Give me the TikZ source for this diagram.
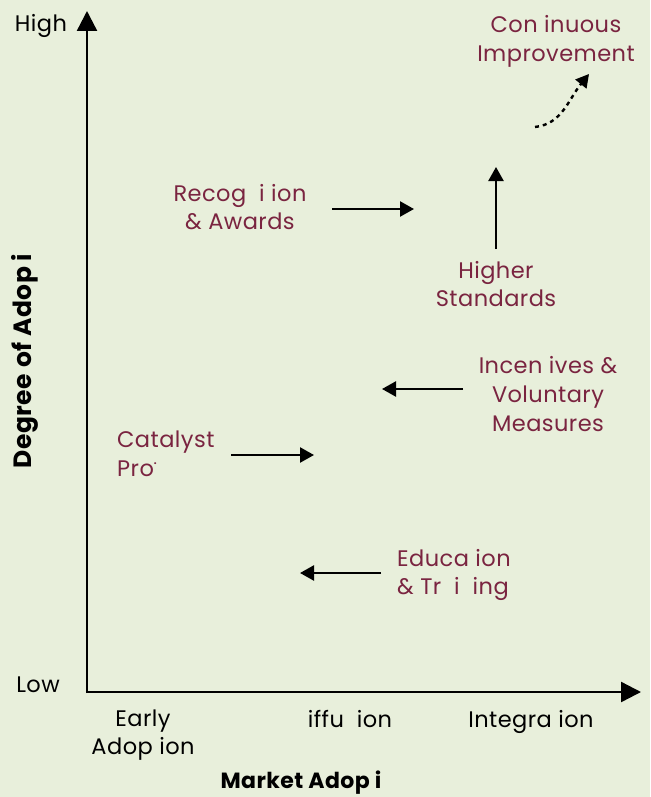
\documentclass[tikz,border=0pt]{standalone}
\usepackage{fontspec}
\setmainfont{Poppins}[LetterSpace=2]
\usetikzlibrary{arrows.meta}
\definecolor{bg}{HTML}{E8EFDB}
\definecolor{maroon}{HTML}{7A2440}
\tikzset{
  lbl/.style={text=maroon, font=\fontsize{22.5}{28.8}\selectfont, inner sep=0pt, align=center},
  axlbl/.style={text=black, font=\fontsize{22.5}{28.8}\selectfont, inner sep=0pt, align=center},
  axtitle/.style={text=black, font=\bfseries\fontsize{22}{24}\selectfont, inner sep=0pt},
  axis/.style={line width=2.4pt, -{Triangle[length=20pt,width=20pt]}},
  flow/.style={line width=2.4pt, -{Triangle[length=14pt,width=15pt]}},
}
\begin{document}
\begin{tikzpicture}[x=1pt,y=-1pt]
\fill[bg] (0,0) rectangle (650,797);
\useasboundingbox (0,0) rectangle (650,797);
% axes
\coordinate (origin) at (87,692);
\coordinate (ytop) at (87,11);
\coordinate (xend) at (641,692);
\draw[axis] ([yshift=-1.2pt]origin) -- (ytop);
\draw[axis] ([xshift=-1.2pt]origin) -- (xend);
\node[axlbl] (high) at (41,26) {High};
\node[axlbl] (low) at (38,685) {Low};
\node[axtitle, font=\bfseries\fontsize{25}{28}\selectfont, rotate=90] (ytitle) at (25,361) {Degree of Adop i};
\node[axtitle] (xtitle) at (301,783) {Market Adop i};
\node[axlbl] (early) at (143,735) {Early\\Adop ion};
\node[axlbl] (diff) at (350,719) {iffu\ \ ion};
\node[axlbl] (integ) at (531,722) {Integra ion};
% labels
\node[lbl] (cont) at (556,41) {Con inuous\\Improvement};
\node[lbl] (recog) at (240,207) {Recog\ \ i ion\\\& Awards};
\node[lbl] (higher) at (496,284) {Higher\\Standards};
\node[lbl] (incent) at (548,394) {Incen ives \&\\Voluntary\\Measures};
\node[lbl, align=left, anchor=west] (cat) at (117,454) {Catalyst\\Pro\raisebox{0.55em}{\fontsize{10}{10}\selectfont\textbf{.}}};
\node[lbl, align=left, anchor=west] (edu) at (397,575) {Educa ion\\\& Tr\ \ i\ \ ing};
% arrows
\coordinate (ca1) at (535,127);
\coordinate (ca2) at (589,74);
\draw[line width=2.4pt, dash pattern=on 4pt off 4pt, -{Triangle[length=13pt,width=14pt]}] (ca1) .. controls (562,124) and (568,100) .. (ca2);
\coordinate (r1) at (332,209);
\coordinate (r2) at (414,209);
\draw[flow] (r1) -- (r2);
\coordinate (h1) at (496,249);
\coordinate (h2) at (496,167);
\draw[flow] (h1) -- (h2);
\coordinate (i1) at (463,389);
\coordinate (i2) at (382,389);
\draw[flow] (i1) -- (i2);
\coordinate (c1) at (231,455);
\coordinate (c2) at (314,455);
\draw[flow] (c1) -- (c2);
\coordinate (e1) at (381,573);
\coordinate (e2) at (300,573);
\draw[flow] (e1) -- (e2);
\end{tikzpicture}
\end{document}
